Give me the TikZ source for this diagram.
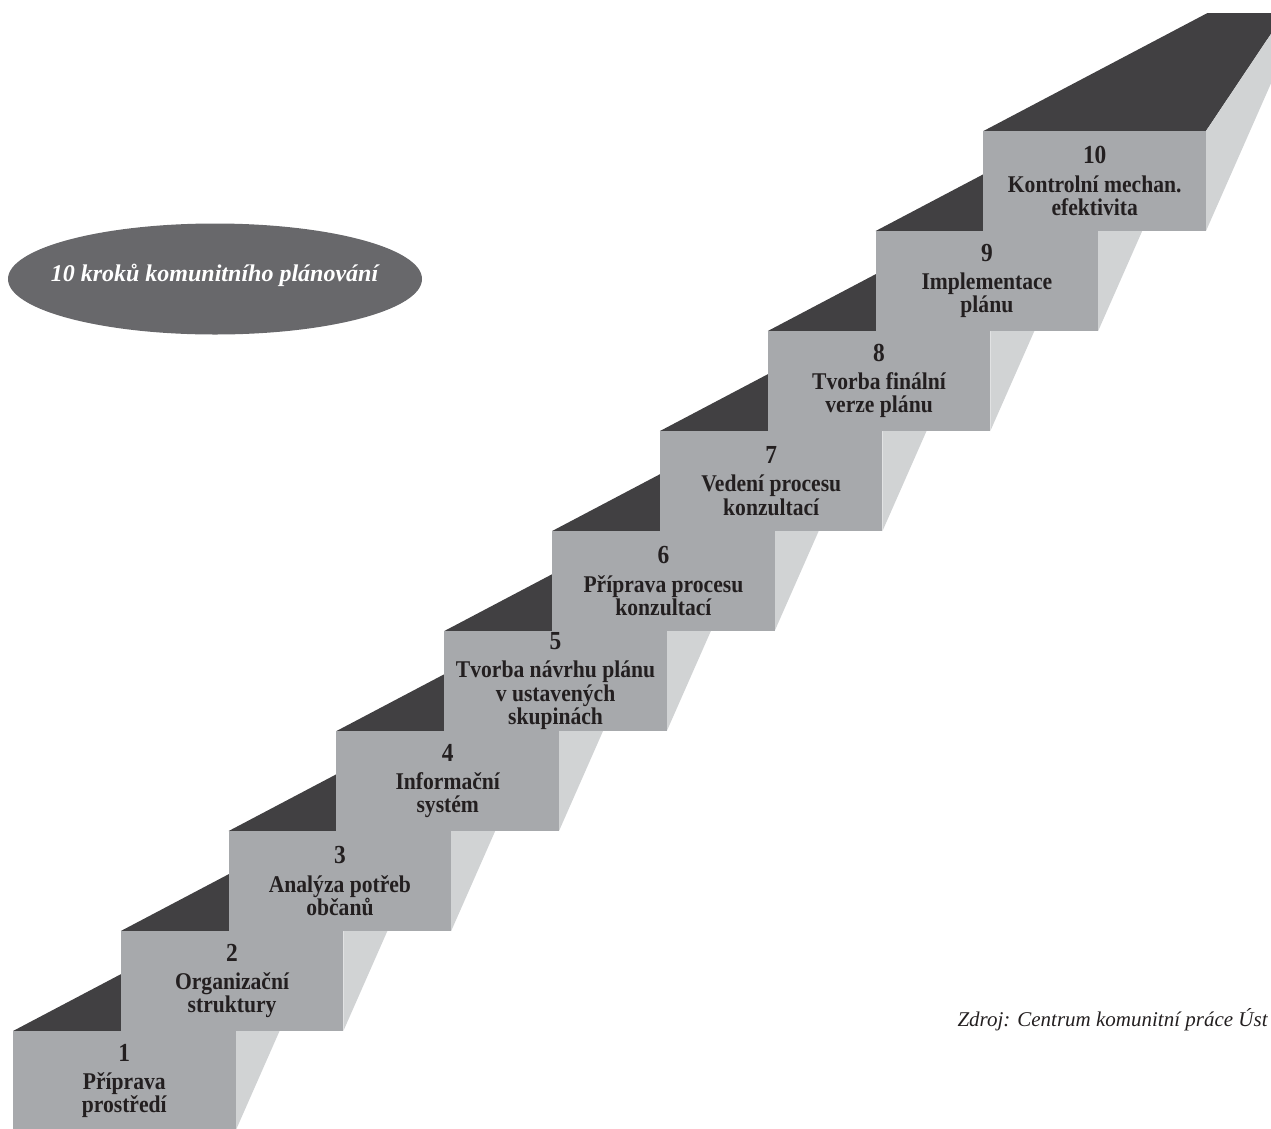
\documentclass[tikz,border=0pt]{standalone}
\usepackage{fontspec}
\setmainfont{Liberation Serif}
\newfontfamily\stepfont[FakeStretch=0.9]{Liberation Serif}
\usetikzlibrary{shapes.geometric}
\definecolor{frontgray}{HTML}{A7A9AC}
\definecolor{darktop}{HTML}{414042}
\definecolor{sidegray}{HTML}{D1D3D4}
\definecolor{textdark}{HTML}{231F20}
\definecolor{ellgray}{HTML}{68686B}
\tikzset{
  stepfront/.style={fill=frontgray, minimum width=222.5pt, minimum height=100pt,
    inner sep=0pt, align=center, text=textdark,
    font={\stepfont\bfseries\fontsize{24}{23.3}\selectfont}},
  topface/.style={fill=darktop},
  sideface/.style={fill=sidegray},
}
\newcommand{\stepno}[1]{{\fontsize{26}{26}\selectfont #1}\\[5.1pt]}
\begin{document}
\lineskiplimit=-100pt
\begin{tikzpicture}[x=1pt,y=-1pt]
\useasboundingbox (0,0) rectangle (1271,1128);
\clip (0,0) rectangle (1271,1128);
% top and side faces of the ten steps
\foreach \k in {0,...,9} {
  \pgfmathsetmacro\L{13+107.83*\k}
  \pgfmathsetmacro\T{1031-100*\k}
  \pgfmathsetmacro\R{\L+222.5}
  \pgfmathsetmacro\B{\T+100}
  \fill[topface] (\L,\T) -- (\R,\T) -- (\R+79,\T-118) -- (\L+224,\T-118) -- cycle;
  \fill[sideface] (\R,\T) -- (\R,\B) -- (\R+96,\T-118) -- (\R+79,\T-118) -- cycle;
}
% front faces
\node[stepfront] (s1) at (124.25,1081) {\stepno{1}Příprava\\prostředí};
\node[stepfront] (s2) at (232.08,981) {\stepno{2}Organizační\\struktury};
\node[stepfront] (s3) at (339.91,881) {\stepno{3}Analýza potřeb\\občanů};
\node[stepfront] (s4) at (447.74,781) {\stepno{4}Informační\\systém};
\node[stepfront] (s5) at (555.57,681) {\stepno{5}Tvorba návrhu plánu\\v ustavených\\skupinách};
\node[stepfront] (s6) at (663.40,581) {\stepno{6}Příprava procesu\\konzultací};
\node[stepfront] (s7) at (771.23,481) {\stepno{7}Vedení procesu\\konzultací};
\node[stepfront] (s8) at (879.06,381) {\stepno{8}Tvorba finální\\verze plánu};
\node[stepfront] (s9) at (986.89,281) {\stepno{9}Implementace\\plánu};
\node[stepfront] (s10) at (1094.72,181) {\stepno{10}Kontrolní mechan.\\efektivita};
% title ellipse
\node[ellipse, fill=ellgray, minimum width=414pt, minimum height=111pt, inner sep=0pt] (title) at (215,279) {};
\node[anchor=base, inner sep=0pt, text=white, font={\bfseries\itshape\fontsize{24}{24}\selectfont}] (titletext) at (214.5,281.7) {10 kroků komunitního plánování};
% source
\node[anchor=base west, inner sep=0pt, text=textdark, font={\itshape\fontsize{21}{21}\selectfont}] (source) at (957.3,1026.7) {Zdroj: Centrum komunitní práce Úst};
\end{tikzpicture}
\end{document}
